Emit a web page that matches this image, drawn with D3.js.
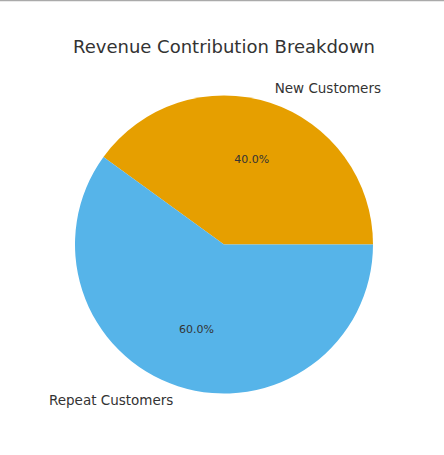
<!DOCTYPE html>
<html>
<head>
<meta charset="utf-8">
<script src="https://cdn.jsdelivr.net/npm/d3@7"></script>
<style>
  body { margin: 0; background: #fff; }
  svg { display: block; font-family: "DejaVu Sans", sans-serif; }
</style>
</head>
<body>
<div id="chart"></div>
<script>
var categories = ["New Customers", "Repeat Customers"];
var shares = [40, 60];
var colors = ["#E69F00", "#56B4E9"];
var title = "Revenue Contribution Breakdown";

var width = 444, height = 455;
var cx = 224, cy = 244.5, radius = 149;

var svg = d3.select("#chart").append("svg")
    .attr("width", width)
    .attr("height", height);

// thin frame line along the top edge
svg.append("line")
    .attr("x1", 0).attr("x2", width)
    .attr("y1", 0.5).attr("y2", 0.5)
    .attr("stroke", "#aaaaaa")
    .attr("stroke-width", 1.5);

svg.append("text")
    .attr("x", cx)
    .attr("y", 53)
    .attr("text-anchor", "middle")
    .attr("fill", "#333333")
    .style("font-size", "18px")
    .text(title);

var data = categories.map(function(c, i) { return {name: c, value: shares[i], color: colors[i]}; });

// matplotlib style: start at 3 o'clock, go counter-clockwise
var pie = d3.pie()
    .sort(null)
    .value(function(d) { return d.value; })
    .startAngle(Math.PI / 2)
    .endAngle(Math.PI / 2 - 2 * Math.PI);

var arc = d3.arc().innerRadius(0).outerRadius(radius);

var g = svg.append("g")
    .attr("transform", "translate(" + cx + "," + cy + ")");

var arcs = pie(data);

g.selectAll("path")
    .data(arcs)
    .enter().append("path")
    .attr("d", arc)
    .attr("fill", function(d) { return d.data.color; });

function pos(d, k) {
    var a = (d.startAngle + d.endAngle) / 2;
    return [Math.sin(a) * radius * k, -Math.cos(a) * radius * k];
}

// percentage labels
g.selectAll(".pct")
    .data(arcs)
    .enter().append("text")
    .attr("class", "pct")
    .attr("x", function(d) { return pos(d, 0.6)[0]; })
    .attr("y", function(d) { return pos(d, 0.6)[1]; })
    .attr("dy", "0.35em")
    .attr("text-anchor", "middle")
    .attr("fill", "#333333")
    .style("font-size", "11px")
    .text(function(d) { return d3.format(".1f")(d.data.value) + "%"; });

// category labels
g.selectAll(".lbl")
    .data(arcs)
    .enter().append("text")
    .attr("class", "lbl")
    .attr("x", function(d) { return pos(d, 1.1)[0]; })
    .attr("y", function(d) { return pos(d, 1.1)[1]; })
    .attr("dy", "0.35em")
    .attr("text-anchor", function(d) { return pos(d, 1.1)[0] > 0 ? "start" : "end"; })
    .attr("fill", "#333333")
    .style("font-size", "13.5px")
    .text(function(d) { return d.data.name; });
</script>
</body>
</html>
